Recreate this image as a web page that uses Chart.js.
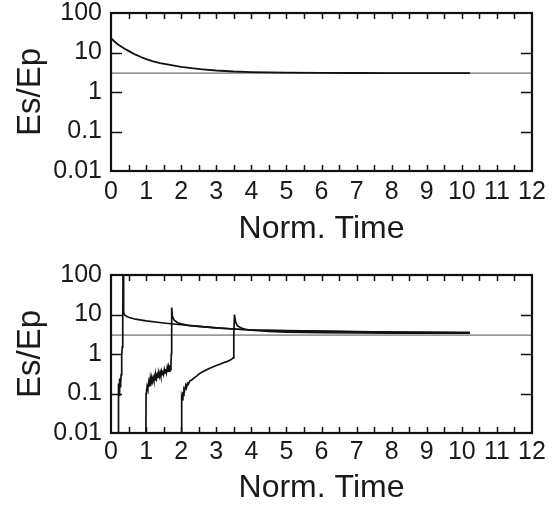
<!DOCTYPE html>
<html><head><meta charset="utf-8">
<script src="https://cdn.jsdelivr.net/npm/chart.js@4.4.1/dist/chart.umd.min.js"></script>
<style>
html,body{margin:0;padding:0;background:#fff;overflow:hidden;width:560px;height:509px}
canvas{position:absolute;left:0}
</style></head><body>
<canvas id="c1" width="560" height="250" style="top:0"></canvas>
<canvas id="c2" width="560" height="247" style="top:262px"></canvas>
<script>
// ---- data ----
const xTickValues = [0,1,2,3,4,5,6,7,8,9,10,11,12];
const yTickValues = [0.01,0.1,1,10,100];
const yTickLabels = ['0.01','0.1','1','10','100'];
const xTitle = 'Norm. Time';
const yTitle = 'Es/Ep';

const refT = [0, 12];
const refV = [3, 3];

const topT = [0,0.05,0.1,0.2,0.3,0.4,0.5,0.6,0.7,0.85,1.0,1.2,1.4,1.6,1.8,2.0,2.3,2.6,3.0,3.5,4.0,4.5,5.0,6.0,7.0,8.0,9.0,10.23];
const topV = [23,21,19,16,14,12.3,11,9.8,8.8,7.7,6.8,6.0,5.4,5.0,4.65,4.35,4.0,3.75,3.5,3.3,3.2,3.13,3.09,3.05,3.03,3.02,3.01,3.0];

const run1T = [0.20,0.20,0.21,0.215,0.22,0.225,0.23,0.235,0.24,0.245,0.25,0.255,0.26,0.27,0.28,0.29,0.30,0.31,0.32,0.33,0.34,0.345,0.36,0.40,0.5,0.7,1.0,1.5,2.0,2.5,3.0,3.5,4.0,5,6,7,8,9,10.23];
const run1V = [0.001,0.11,0.08,0.14,0.07,0.18,0.09,0.2,0.1,0.24,0.12,0.22,0.15,0.25,0.18,0.3,0.5,0.9,1.5,3,7,200,11,9.5,8.5,7.6,6.9,6.1,5.5,5.0,4.6,4.3,4.05,3.85,3.75,3.65,3.58,3.52,3.47];

const run2T = [0.99,1.0,1.01,1.02,1.03,1.05,1.07,1.08,1.1,1.12,1.13,1.15,1.16,1.18,1.2,1.22,1.24,1.26,1.28,1.3,1.32,1.34,1.36,1.38,1.4,1.42,1.44,1.46,1.48,1.5,1.52,1.54,1.56,1.58,1.6,1.62,1.64,1.66,1.68,1.7,1.71,1.72,1.73,1.75,1.8,1.9,2.0,2.2,2.5,3,3.5,4,5,6,7,8,9,10.23];
const run2V = [0.001,0.1,0.13,0.11,0.15,0.13,0.18,0.15,0.2,0.16,0.22,0.18,0.24,0.2,0.25,0.21,0.27,0.22,0.29,0.24,0.3,0.26,0.32,0.27,0.34,0.28,0.36,0.3,0.38,0.31,0.4,0.33,0.42,0.34,0.45,0.35,0.47,0.37,0.52,0.4,0.6,1.0,15,9,7.2,6.2,5.8,5.3,5.0,4.6,4.3,4.05,3.9,3.78,3.68,3.6,3.54,3.48];

const run3T = [2.0,2.01,2.02,2.03,2.05,2.06,2.08,2.1,2.13,2.15,2.18,2.2,2.25,2.3,2.35,2.4,2.45,2.5,2.6,2.7,2.8,2.9,3.0,3.1,3.2,3.3,3.4,3.45,3.48,3.5,3.52,3.55,3.6,3.7,3.8,4,4.5,5,6,7,8,9,10.23];
const run3V = [0.001,0.05,0.08,0.07,0.11,0.09,0.13,0.12,0.16,0.14,0.18,0.17,0.21,0.22,0.24,0.26,0.28,0.31,0.35,0.39,0.43,0.47,0.51,0.55,0.6,0.64,0.7,0.75,0.8,3,10,6.5,5.2,4.6,4.3,4.0,3.75,3.6,3.45,3.4,3.38,3.36,3.35];

// ---- drawing ----
const FONT = "'Liberation Sans', Arial, Helvetica, sans-serif";
const TXT = '#1a1a1a';
function pts(t, v) { return t.map((x, i) => ({x: x, y: v[i]})); }
function line(t, v, color, w) {
  return {data: pts(t, v), showLine: true, borderColor: color, borderWidth: w,
          pointRadius: 0, fill: false, tension: 0};
}

const framePlugin = {
  id: 'frame',
  afterDatasetsDraw(chart) {
    const {ctx, chartArea: a, scales: {x, y}} = chart;
    ctx.save();
    ctx.strokeStyle = '#111';
    ctx.lineWidth = 1.5;
    ctx.beginPath();
    for (let v = x.min + 0.5; v < x.max; v += 0.5) {
      const px = Math.round(x.getPixelForValue(v)) + 0.5;
      ctx.moveTo(px, a.bottom); ctx.lineTo(px, a.bottom - 6);
      ctx.moveTo(px, a.top); ctx.lineTo(px, a.top + 6);
    }
    yTickValues.slice(1, -1).forEach(v => {
      const py = Math.round(y.getPixelForValue(v)) + 0.5;
      ctx.moveTo(a.left, py); ctx.lineTo(a.left + 11, py);
      ctx.moveTo(a.right, py); ctx.lineTo(a.right - 11, py);
    });
    ctx.stroke();
    ctx.lineWidth = 2.2;
    ctx.strokeRect(a.left, a.top, a.right - a.left, a.bottom - a.top);
    ctx.restore();
  }
};

function makeChart(id, datasets, xAxisH, xPad) {
  return new Chart(document.getElementById(id), {
    type: 'scatter',
    data: {datasets: datasets},
    options: {
      responsive: false, animation: false,
      layout: {padding: {top: 13, right: 28, left: 0, bottom: 0}},
      plugins: {legend: {display: false}, tooltip: {enabled: false}},
      scales: {
        x: {
          type: 'linear', min: 0, max: 12,
          afterBuildTicks: s => { s.ticks = xTickValues.map(v => ({value: v})); },
          ticks: {font: {family: FONT, size: 25}, color: TXT, padding: xPad, maxRotation: 0, autoSkip: false},
          grid: {display: false, drawTicks: false},
          border: {display: false},
          title: {display: true, text: xTitle, font: {family: FONT, size: 32}, color: TXT, padding: {top: 0, bottom: 2}},
          afterFit: s => { s.height = xAxisH; s.paddingLeft = 0; s.paddingRight = 0; s.paddingTop = 0; s.paddingBottom = 0; }
        },
        y: {
          type: 'logarithmic', min: 0.01, max: 100,
          afterBuildTicks: s => { s.ticks = yTickValues.map(v => ({value: v})); },
          ticks: {font: {family: FONT, size: 25}, color: TXT, padding: 9, autoSkip: false,
                  callback: (v, i) => yTickLabels[i]},
          grid: {display: false, drawTicks: false},
          border: {display: false},
          title: {display: true, text: yTitle, font: {family: FONT, size: 33}, color: TXT, padding: {top: 11, bottom: 0}},
          afterFit: s => { s.width = 111; s.paddingLeft = 0; s.paddingRight = 0; s.paddingTop = 0; s.paddingBottom = 0; }
        }
      }
    },
    plugins: [framePlugin]
  });
}

makeChart('c1', [
  line(topT, topV, '#111', 1.8),
  line(refT, refV, '#9a9a9a', 1.8)
], 79, 6);

makeChart('c2', [
  line(run1T, run1V, '#111', 1.7),
  line(run2T, run2V, '#111', 1.7),
  line(run3T, run3V, '#111', 1.7),
  line(refT, refV, '#9a9a9a', 1.8)
], 76, 4);
</script>
</body></html>
